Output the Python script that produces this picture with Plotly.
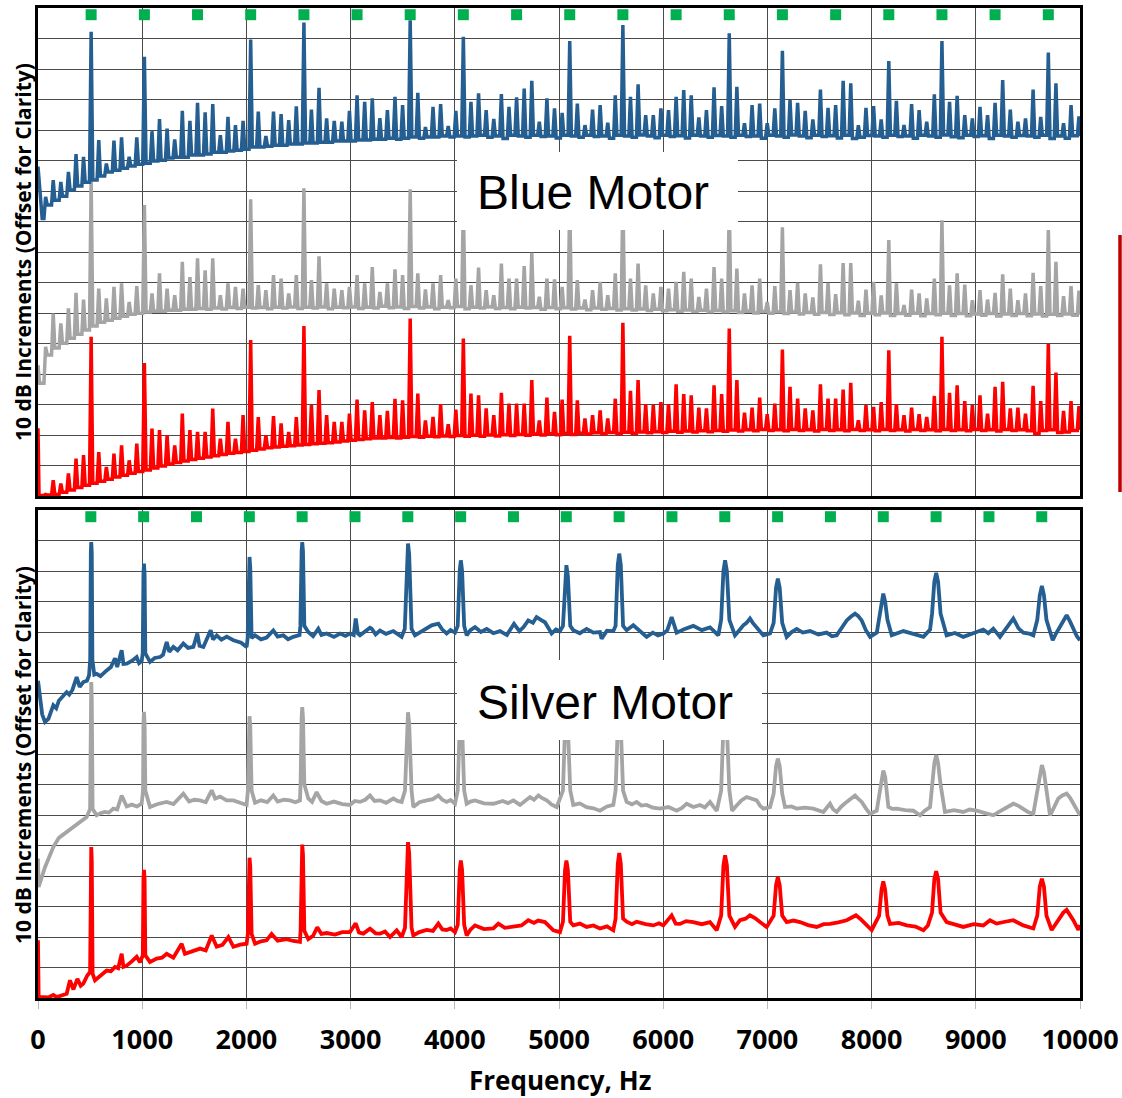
import plotly.graph_objects as go

# ---------------- DATA ----------------
tick_hz = [0, 1000, 2000, 3000, 4000, 5000, 6000, 7000, 8000, 9000, 10000]
tick_text = ["0", "1000", "2000", "3000", "4000", "5000", "6000", "7000", "8000", "9000", "10000"]

# green markers (harmonic positions) for each panel
blue_motor_marks_hz = [510, 1021, 1531, 2041, 2552, 3062, 3572, 4082, 4593, 5103, 5613,
                       6124, 6634, 7144, 7655, 8165, 8675, 9185, 9696]
silver_motor_marks_hz = [507, 1014, 1521, 2028, 2535, 3042, 3549, 4056, 4563, 5070, 5577,
                         6084, 6591, 7098, 7605, 8112, 8619, 9126, 9633]
mark_db = 157.8

# Blue motor: comb lines (Hz)
comb_hz = [73, 146, 219, 292, 365, 437, 510, 583, 656, 729,
           802, 875, 948, 1021, 1094, 1166, 1239, 1312, 1385, 1458,
           1531, 1604, 1677, 1750, 1823, 1895, 1968, 2041, 2114, 2187,
           2260, 2333, 2406, 2479, 2552, 2624, 2697, 2770, 2843, 2916,
           2989, 3062, 3135, 3208, 3281, 3353, 3426, 3499, 3572, 3645,
           3718, 3791, 3864, 3937, 4010, 4082, 4155, 4228, 4301, 4374,
           4447, 4520, 4593, 4666, 4739, 4811, 4884, 4957, 5030, 5103,
           5176, 5249, 5322, 5395, 5468, 5540, 5613, 5686, 5759, 5832,
           5905, 5978, 6051, 6124, 6197, 6269, 6342, 6415, 6488, 6561,
           6634, 6707, 6780, 6853, 6926, 6998, 7071, 7144, 7217, 7290,
           7363, 7436, 7509, 7582, 7655, 7727, 7800, 7873, 7946, 8019,
           8092, 8165, 8238, 8311, 8384, 8456, 8529, 8602, 8675, 8748,
           8821, 8894, 8967, 9040, 9113, 9185, 9258, 9331, 9404, 9477,
           9550, 9623, 9696, 9769, 9842, 9914, 9990]

# Blue motor, blue curve
bm_blue_head_hz = [0, 40]
bm_blue_head_db = [108.0, 91.0]
bm_blue_peak = [98.1, 103.6, 103.0, 106.3, 112.1, 111.2, 152.2, 116.7, 109.0, 116.5,
                117.6, 111.2, 117.6, 144.0, 119.6, 123.6, 120.5, 116.9, 126.3, 123.0,
                128.9, 125.8, 128.5, 118.3, 124.3, 121.6, 123.0, 149.7, 126.0, 118.0,
                126.0, 125.2, 123.2, 127.8, 155.2, 126.7, 133.8, 123.8, 123.0, 122.7,
                126.3, 131.4, 129.2, 130.4, 123.9, 126.5, 130.9, 128.2, 156.0, 132.2,
                121.0, 127.6, 128.5, 121.3, 126.3, 150.6, 129.2, 132.0, 126.5, 123.6,
                131.8, 127.6, 130.7, 133.6, 136.1, 122.7, 130.4, 127.1, 125.6, 149.2,
                128.7, 121.6, 126.7, 128.2, 122.4, 131.4, 154.4, 130.9, 135.0, 124.9,
                124.9, 127.1, 126.5, 130.9, 133.1, 131.4, 124.1, 126.5, 134.0, 127.8,
                151.7, 134.2, 122.2, 128.2, 128.7, 122.2, 127.1, 146.0, 129.8, 128.9,
                126.3, 123.5, 133.3, 127.3, 128.2, 136.1, 135.3, 121.6, 127.3, 127.8,
                123.5, 142.6, 129.6, 121.6, 128.5, 126.5, 122.7, 131.7, 149.2, 129.2,
                131.2, 124.9, 123.8, 127.6, 124.9, 128.9, 136.4, 126.7, 122.7, 123.8,
                133.3, 124.3, 145.4, 135.3, 122.2, 128.2, 124.5]
bm_blue_floor = [95.4, 97.0, 98.3, 100.3, 101.6, 102.9, 103.6, 104.9, 106.2, 106.8,
                 107.5, 108.2, 108.8, 109.1, 109.8, 110.1, 110.8, 111.1, 111.1, 111.8,
                 111.8, 112.1, 112.7, 112.7, 113.1, 113.4, 113.7, 114.4, 114.4, 114.7,
                 115.0, 115.0, 115.4, 115.4, 115.7, 115.7, 116.0, 116.0, 116.4, 116.4,
                 116.4, 116.7, 116.7, 117.0, 117.0, 117.3, 117.0, 117.3, 117.7, 117.3,
                 117.7, 117.7, 118.0, 117.7, 118.0, 117.7, 118.0, 118.3, 117.6, 118.0,
                 117.2, 118.3, 118.0, 117.6, 118.3, 117.9, 118.0, 117.4, 118.3, 118.0,
                 117.6, 118.3, 117.9, 118.0, 117.3, 118.3, 118.0, 117.6, 118.4, 118.0,
                 117.5, 118.3, 117.9, 118.1, 117.4, 118.3, 118.0, 117.6, 118.2, 118.0,
                 117.6, 118.3, 117.9, 118.0, 117.3, 118.3, 118.0, 117.6, 118.4, 118.0,
                 117.5, 118.3, 117.9, 118.1, 117.4, 118.3, 117.2, 117.6, 118.2, 118.0,
                 117.6, 118.3, 117.9, 118.0, 117.3, 118.3, 118.0, 117.6, 118.4, 117.8,
                 117.5, 118.3, 117.9, 118.1, 117.2, 118.3, 118.0, 117.6, 118.2, 118.0,
                 117.6, 118.3, 117.2, 118.0, 117.3, 118.1, 118.0]

# Blue motor, gray curve
bm_gray_head_hz = [0, 15]
bm_gray_head_db = [42.9, 37.0]
bm_gray_peak = [48.9, 59.8, 56.6, 61.5, 66.6, 64.4, 103.6, 68.0, 64.8, 68.6,
                69.7, 63.6, 68.8, 95.4, 66.4, 73.0, 68.0, 65.8, 76.8, 71.8,
                77.9, 74.0, 77.9, 65.8, 69.7, 68.6, 68.0, 97.3, 69.1, 67.5,
                72.4, 71.3, 66.4, 72.4, 100.9, 70.8, 78.6, 69.7, 68.0, 67.5,
                68.6, 72.4, 69.7, 75.1, 66.9, 69.7, 74.3, 72.4, 100.6, 73.0,
                67.7, 69.7, 72.4, 64.2, 71.3, 96.0, 69.1, 74.9, 67.5, 65.8,
                76.2, 71.3, 71.3, 75.4, 79.7, 65.3, 71.3, 71.0, 68.6, 97.0,
                70.8, 64.4, 67.5, 70.2, 65.8, 73.0, 99.0, 71.3, 76.2, 69.1,
                66.4, 68.6, 68.0, 70.2, 73.5, 71.3, 65.3, 68.0, 75.1, 71.3,
                96.0, 74.6, 66.4, 69.1, 71.3, 63.6, 68.8, 88.1, 67.5, 69.9,
                66.4, 65.1, 76.0, 69.9, 66.2, 76.4, 76.4, 64.0, 67.7, 70.2,
                65.8, 83.9, 69.7, 62.6, 67.7, 66.4, 64.8, 71.3, 90.4, 69.1,
                73.0, 69.3, 64.2, 67.5, 64.4, 66.6, 72.7, 68.0, 64.2, 66.4,
                73.2, 68.8, 87.2, 76.8, 65.5, 68.8, 67.3]
bm_gray_floor = [46.2, 48.5, 50.1, 51.7, 53.0, 54.4, 55.7, 57.0, 57.6, 58.3,
                 58.9, 59.6, 59.9, 60.3, 60.6, 60.6, 60.9, 60.9, 61.2, 61.2,
                 61.5, 61.2, 61.6, 61.3, 61.8, 61.5, 61.9, 61.6, 61.8, 61.4,
                 61.9, 61.6, 62.0, 61.5, 61.9, 61.6, 62.0, 61.4, 61.9, 61.7,
                 62.0, 61.5, 61.9, 61.6, 62.2, 61.7, 62.0, 61.5, 62.1, 61.6,
                 62.0, 61.4, 61.9, 61.7, 62.1, 61.4, 61.9, 61.6, 62.0, 61.5,
                 61.8, 61.4, 61.9, 61.6, 61.8, 61.2, 61.8, 61.4, 61.7, 61.3,
                 61.6, 61.1, 61.6, 61.2, 61.5, 61.0, 61.4, 61.0, 61.3, 60.8,
                 61.2, 60.7, 61.1, 60.6, 61.0, 60.5, 60.9, 60.4, 60.8, 60.4,
                 60.7, 60.2, 60.6, 60.0, 60.5, 59.9, 60.4, 59.8, 60.3, 59.7,
                 60.2, 59.6, 60.2, 59.5, 60.1, 59.4, 60.0, 59.2, 59.9, 59.4,
                 60.0, 59.2, 59.8, 59.3, 59.9, 59.1, 59.8, 59.4, 59.9, 59.2,
                 59.8, 59.1, 59.7, 59.3, 59.8, 59.0, 59.7, 59.2, 59.8, 59.1,
                 59.7, 59.0, 59.6, 59.2, 59.7, 59.3, 59.5]

# Blue motor, red curve
bm_red_head_hz = [0, 10]
bm_red_head_db = [22.2, 0.2]
bm_red_peak = [0.5, 5.2, 4.1, 7.4, 12.3, 13.4, 52.2, 14.4, 9.5, 13.9,
               16.6, 11.7, 17.2, 43.6, 22.1, 21.6, 19.9, 16.6, 27.0, 21.6,
               21.0, 21.0, 28.7, 18.8, 24.3, 18.8, 26.5, 51.1, 25.9, 19.9,
               26.2, 23.8, 21.0, 25.9, 55.7, 29.8, 34.7, 26.5, 24.3, 24.3,
               27.0, 31.6, 28.1, 30.8, 26.5, 27.9, 31.9, 31.4, 58.2, 33.6,
               24.8, 25.9, 30.1, 23.5, 28.3, 51.6, 33.6, 33.0, 28.7, 26.5,
               33.8, 30.3, 30.3, 30.3, 38.0, 24.8, 32.3, 27.6, 31.6, 52.5,
               31.4, 25.4, 26.5, 28.1, 25.4, 31.9, 56.8, 34.5, 38.0, 30.1,
               29.8, 30.8, 30.1, 36.6, 33.4, 33.0, 29.0, 28.7, 36.3, 33.4,
               54.9, 38.0, 27.3, 29.0, 32.3, 26.8, 30.3, 48.0, 35.8, 31.9,
               28.7, 28.1, 36.6, 31.9, 31.9, 34.9, 37.1, 24.8, 29.8, 29.2,
               30.8, 47.8, 30.1, 26.5, 29.0, 26.8, 25.9, 32.8, 52.2, 33.8,
               36.3, 31.1, 29.8, 33.0, 27.0, 35.8, 37.4, 28.7, 29.0, 27.0,
               36.1, 31.1, 49.8, 40.5, 27.9, 31.1, 29.5]
bm_red_floor = [0.3, 0.5, 1.2, 2.0, 2.8, 3.5, 4.2, 4.8, 5.5, 6.2,
                6.8, 7.5, 8.0, 8.5, 9.2, 9.8, 10.5, 11.0, 11.5, 12.0,
                12.4, 12.8, 13.2, 13.6, 14.0, 14.3, 14.6, 15.0, 15.4, 15.8,
                16.1, 16.3, 16.5, 16.7, 16.9, 17.1, 17.3, 17.5, 17.7, 18.0,
                18.3, 18.5, 18.8, 19.0, 19.0, 19.2, 19.0, 19.3, 19.5, 19.3,
                19.6, 19.4, 19.7, 19.5, 19.8, 19.6, 19.9, 19.6, 20.0, 19.7,
                20.1, 19.8, 20.2, 19.9, 20.3, 20.0, 20.4, 20.1, 20.5, 20.2,
                20.6, 20.3, 20.7, 20.4, 20.8, 20.5, 20.9, 20.6, 21.0, 20.7,
                21.1, 20.8, 21.2, 20.9, 21.3, 21.0, 21.4, 21.1, 21.5, 21.2,
                21.6, 21.3, 21.7, 21.4, 21.8, 21.5, 21.7, 21.4, 21.8, 21.5,
                21.7, 21.3, 21.8, 21.5, 21.7, 21.4, 21.8, 21.5, 21.7, 21.4,
                21.8, 21.5, 21.7, 21.3, 21.8, 21.5, 21.7, 21.4, 21.8, 21.5,
                21.7, 21.4, 21.8, 21.5, 21.7, 21.3, 21.8, 21.5, 21.7, 21.4,
                20.5, 21.5, 21.7, 20.8, 21.0, 21.5, 21.7]

# Silver motor curves: (Hz, dB) points
sm_blue_pts = [
    (0, 104.0), (40, 93.0), (67, 90.5), (100, 91.5), (147, 96.0), (175, 95.0), (200, 97.5),
    (240, 99.0), (275, 100.3), (300, 99.5), (330, 101.0), (371, 105.2), (400, 102.0),
    (435, 103.6), (470, 104.0), (490, 105.8), (501, 111.0), (507, 146.0), (511, 149.5),
    (516, 146.0), (522, 111.0), (540, 106.0), (563, 106.3), (600, 105.5), (659, 107.4),
    (700, 108.5), (739, 111.4), (760, 108.5), (803, 114.0), (820, 109.5), (851, 109.6),
    (900, 110.5), (947, 111.8), (970, 109.8), (995, 110.5), (1005, 113.0), (1012, 139.0),
    (1017, 142.4), (1023, 139.0), (1030, 113.0), (1075, 110.2), (1120, 111.5), (1171, 111.8),
    (1200, 112.5), (1235, 116.7), (1260, 113.5), (1299, 115.1), (1340, 114.0), (1395, 116.2),
    (1440, 114.8), (1491, 115.1), (1529, 119.5), (1550, 115.5), (1587, 115.1), (1657, 120.6),
    (1680, 117.5), (1715, 118.9), (1760, 117.5), (1811, 118.5), (1875, 117.3), (1950, 116.5),
    (2002, 115.1), (2012, 118.0), (2024, 141.0), (2030, 144.6), (2037, 141.0), (2050, 118.0),
    (2083, 118.9), (2140, 117.6), (2194, 118.2), (2258, 120.5), (2300, 118.5), (2354, 118.9),
    (2400, 117.6), (2450, 118.4), (2510, 119.0), (2518, 122.0), (2530, 146.5), (2536, 149.5),
    (2543, 146.5), (2556, 122.0), (2594, 120.0), (2640, 118.6), (2690, 121.1), (2720, 119.0),
    (2770, 119.5), (2840, 118.4), (2900, 119.5), (2950, 118.7), (2994, 119.5), (3030, 119.0),
    (3049, 124.4), (3070, 119.5), (3090, 118.9), (3140, 120.3), (3186, 121.4), (3202, 121.1),
    (3240, 119.2), (3282, 120.5), (3340, 119.4), (3410, 120.3), (3450, 119.5), (3490, 118.4),
    (3520, 121.0), (3540, 145.5), (3551, 149.0), (3562, 145.5), (3585, 121.0), (3618, 118.9),
    (3680, 120.2), (3730, 121.1), (3778, 122.2), (3842, 122.7), (3880, 120.8), (3922, 119.5),
    (3960, 120.6), (4002, 119.8), (4028, 122.0), (4047, 140.0), (4058, 143.5), (4070, 140.0),
    (4090, 122.0), (4114, 118.9), (4150, 120.6), (4194, 121.6), (4250, 120.0), (4306, 121.0),
    (4370, 119.6), (4434, 120.3), (4500, 119.0), (4568, 122.7), (4620, 120.3), (4660, 121.6),
    (4705, 123.8), (4750, 123.0), (4785, 124.9), (4830, 123.9), (4865, 123.2), (4900, 121.2),
    (4929, 119.5), (4970, 120.8), (5009, 120.3), (5038, 122.0), (5058, 138.5), (5071, 141.9),
    (5085, 138.5), (5108, 122.0), (5137, 120.6), (5200, 119.6), (5265, 121.0), (5330, 119.8),
    (5393, 120.0), (5409, 117.8), (5460, 120.4), (5521, 120.3), (5543, 122.0), (5564, 142.0),
    (5578, 145.7), (5593, 142.0), (5615, 122.0), (5649, 120.6), (5713, 122.2), (5780, 120.0),
    (5841, 118.4), (5900, 119.8), (5950, 118.9), (6001, 119.5), (6040, 120.6), (6081, 124.9),
    (6129, 119.8), (6200, 120.9), (6289, 122.0), (6370, 120.6), (6449, 121.5), (6490, 120.2),
    (6529, 118.9), (6556, 124.0), (6578, 140.0), (6594, 143.5), (6611, 140.0), (6635, 124.0),
    (6689, 118.9), (6705, 119.5), (6769, 122.2), (6800, 123.0), (6833, 124.4), (6860, 123.0),
    (6897, 121.5), (6930, 120.0), (6961, 118.9), (7025, 119.5), (7060, 123.0), (7083, 134.5),
    (7100, 137.5), (7118, 134.5), (7142, 123.0), (7185, 118.4), (7230, 119.9), (7281, 121.0),
    (7340, 119.8), (7409, 120.3), (7490, 119.2), (7569, 119.8), (7620, 118.6), (7665, 118.9),
    (7710, 121.0), (7761, 123.8), (7800, 125.0), (7841, 126.0), (7870, 125.3), (7905, 123.8),
    (7945, 120.6), (7985, 118.4), (8050, 119.8), (8072, 124.0), (8095, 130.0), (8112, 132.6),
    (8130, 130.0), (8152, 124.0), (8193, 118.9), (8250, 119.6), (8305, 120.3), (8400, 119.4),
    (8497, 118.4), (8561, 120.8), (8580, 126.0), (8602, 136.5), (8620, 139.4), (8638, 136.5),
    (8662, 126.0), (8720, 118.9), (8800, 119.7), (8880, 118.4), (8980, 119.6), (9072, 120.8),
    (9120, 119.6), (9168, 121.1), (9232, 118.4), (9300, 121.5), (9360, 124.4), (9410, 121.2),
    (9456, 119.8), (9510, 119.5), (9552, 118.9), (9590, 124.0), (9614, 132.0), (9634, 135.1),
    (9654, 132.0), (9678, 124.0), (9738, 117.3), (9770, 119.5), (9808, 121.8), (9840, 124.0),
    (9872, 125.5), (9905, 123.4), (9936, 121.0), (9970, 118.6), (10000, 117.3)]

sm_gray_pts = [
    (0, 45.7), (6, 36.4), (67, 42.9), (147, 49.5), (200, 52.5), (275, 54.4), (371, 57.2),
    (435, 58.5), (467, 59.3), (500, 62.0), (506, 98.0), (511, 103.6), (516, 98.0), (524, 62.0),
    (563, 59.9), (600, 60.6), (640, 61.0), (680, 60.8), (723, 62.1), (760, 61.8), (803, 66.4),
    (851, 62.8), (900, 63.4), (950, 62.8), (995, 63.7), (1008, 68.0), (1012, 90.0),
    (1017, 93.8), (1023, 90.0), (1030, 68.0), (1075, 62.6), (1150, 63.6), (1235, 64.3),
    (1300, 63.6), (1395, 67.0), (1450, 64.4), (1500, 65.0), (1555, 64.8), (1610, 64.2),
    (1667, 68.1), (1700, 65.4), (1747, 66.0), (1810, 64.8), (1875, 64.8), (1940, 64.0),
    (2002, 63.3), (2014, 68.0), (2024, 89.0), (2030, 92.4), (2037, 89.0), (2050, 68.0),
    (2083, 64.0), (2140, 64.8), (2200, 64.2), (2258, 66.4), (2300, 64.4), (2360, 65.0),
    (2418, 64.8), (2470, 64.2), (2514, 64.8), (2520, 70.0), (2530, 92.0), (2536, 95.4),
    (2543, 92.0), (2556, 70.0), (2594, 65.4), (2630, 64.3), (2674, 67.5), (2720, 64.6),
    (2770, 63.7), (2840, 64.4), (2920, 63.6), (2994, 63.3), (3040, 64.6), (3090, 64.3),
    (3140, 65.0), (3186, 66.4), (3230, 64.6), (3282, 64.8), (3340, 64.0), (3410, 65.4),
    (3450, 64.6), (3490, 64.3), (3522, 68.0), (3540, 90.0), (3551, 93.7), (3562, 90.0),
    (3585, 68.0), (3602, 62.6), (3660, 64.2), (3730, 64.8), (3790, 65.2), (3842, 66.4),
    (3880, 65.0), (3922, 64.3), (3960, 64.9), (4002, 63.7), (4028, 68.0), (4047, 89.0),
    (4058, 92.0), (4070, 89.0), (4090, 68.0), (4114, 63.7), (4150, 64.4), (4194, 64.8),
    (4280, 63.8), (4370, 63.7), (4460, 64.6), (4510, 63.9), (4562, 64.8), (4626, 63.3),
    (4680, 64.9), (4722, 65.9), (4760, 65.0), (4802, 66.4), (4840, 65.5), (4882, 64.8),
    (4930, 63.4), (4978, 62.6), (5038, 68.0), (5058, 89.0), (5071, 92.0), (5085, 89.0),
    (5108, 68.0), (5137, 63.3), (5200, 63.8), (5265, 62.6), (5330, 62.2), (5393, 61.4),
    (5460, 62.8), (5521, 63.3), (5543, 68.0), (5564, 89.0), (5578, 92.0), (5593, 89.0),
    (5615, 68.0), (5649, 64.3), (5700, 63.5), (5745, 64.3), (5790, 63.1), (5841, 63.3),
    (5900, 62.4), (5969, 62.1), (6050, 62.6), (6129, 61.4), (6180, 62.3), (6225, 63.7),
    (6290, 62.6), (6353, 63.3), (6400, 62.5), (6449, 64.3), (6480, 62.8), (6514, 61.4),
    (6556, 68.0), (6578, 89.0), (6594, 92.0), (6611, 89.0), (6635, 68.0), (6661, 61.4),
    (6705, 63.1), (6750, 64.8), (6801, 65.9), (6850, 65.5), (6897, 64.8), (6930, 63.0),
    (6961, 62.1), (7025, 62.6), (7060, 67.0), (7083, 76.0), (7100, 78.5), (7118, 76.0),
    (7142, 67.0), (7169, 62.6), (7230, 62.8), (7281, 62.1), (7360, 62.4), (7441, 62.1),
    (7490, 61.7), (7537, 61.0), (7601, 63.7), (7630, 61.9), (7665, 61.0), (7710, 62.8),
    (7761, 64.3), (7800, 65.5), (7841, 66.4), (7875, 65.2), (7905, 64.3), (7945, 62.2),
    (7985, 60.4), (8049, 61.4), (8072, 67.0), (8095, 72.5), (8112, 74.6), (8130, 72.5),
    (8152, 67.0), (8161, 62.6), (8200, 62.0), (8241, 62.1), (8320, 61.6), (8401, 61.4),
    (8465, 59.9), (8510, 61.4), (8561, 62.6), (8580, 70.0), (8602, 77.0), (8620, 79.6),
    (8638, 77.0), (8662, 70.0), (8704, 61.0), (8790, 61.6), (8880, 61.0), (8940, 61.8),
    (9008, 61.4), (9090, 60.6), (9168, 59.9), (9230, 61.2), (9296, 62.6), (9360, 63.7),
    (9410, 63.0), (9456, 62.1), (9500, 61.0), (9552, 60.4), (9590, 68.0), (9614, 74.0),
    (9634, 76.4), (9654, 74.0), (9678, 68.0), (9712, 59.9), (9750, 62.4), (9792, 65.4),
    (9830, 66.4), (9872, 67.0), (9905, 65.6), (9936, 63.7), (9970, 61.4), (10000, 59.9)]

sm_red_pts = [
    (0, 18.9), (6, 0.4), (100, 0.2), (147, 1.0), (180, 0.3), (275, 1.4), (307, 5.8),
    (340, 2.8), (378, 6.3), (410, 4.0), (435, 4.7), (473, 7.4), (500, 8.5), (506, 45.0),
    (511, 49.5), (516, 45.0), (524, 8.0), (547, 5.8), (600, 7.2), (659, 9.0), (700, 8.8),
    (739, 10.2), (770, 9.8), (803, 14.5), (820, 10.2), (851, 10.6), (900, 12.0), (947, 13.5),
    (979, 11.7), (1006, 14.0), (1012, 39.0), (1017, 42.0), (1023, 39.0), (1030, 14.0),
    (1075, 11.8), (1139, 12.9), (1190, 13.2), (1235, 14.5), (1299, 13.2), (1379, 17.8),
    (1410, 14.5), (1480, 15.4), (1555, 16.2), (1610, 15.6), (1667, 20.5), (1715, 16.8),
    (1770, 17.4), (1827, 20.0), (1875, 16.8), (1940, 17.5), (2002, 17.8), (2014, 21.0),
    (2024, 43.0), (2030, 46.0), (2037, 43.0), (2050, 21.0), (2083, 17.8), (2140, 18.6),
    (2194, 18.9), (2242, 21.0), (2300, 18.8), (2386, 19.3), (2450, 18.7), (2514, 18.4),
    (2520, 22.0), (2530, 47.0), (2536, 50.3), (2543, 47.0), (2556, 22.0), (2594, 19.3),
    (2640, 20.4), (2680, 23.2), (2720, 21.0), (2770, 21.3), (2850, 20.8), (2920, 21.6),
    (2994, 21.6), (3049, 24.5), (3080, 21.5), (3122, 21.1), (3186, 22.7), (3240, 21.2),
    (3282, 21.1), (3330, 21.8), (3378, 20.0), (3442, 22.2), (3490, 20.0), (3522, 23.0),
    (3540, 47.5), (3551, 51.1), (3562, 47.5), (3585, 23.0), (3602, 20.5), (3660, 21.6),
    (3730, 22.3), (3790, 22.0), (3842, 24.4), (3880, 22.5), (3922, 22.3), (3960, 22.8),
    (4002, 21.6), (4028, 24.0), (4047, 42.0), (4058, 45.1), (4070, 42.0), (4090, 24.0),
    (4114, 20.5), (4150, 22.4), (4194, 23.8), (4280, 22.6), (4370, 22.8), (4418, 24.4),
    (4480, 23.0), (4562, 23.3), (4640, 23.8), (4705, 25.5), (4760, 24.6), (4800, 25.4),
    (4865, 24.9), (4946, 22.2), (5009, 21.6), (5038, 25.0), (5058, 42.0), (5071, 45.1),
    (5085, 42.0), (5108, 25.0), (5137, 23.8), (5200, 24.4), (5265, 23.3), (5330, 23.8),
    (5393, 22.8), (5460, 23.5), (5521, 22.2), (5543, 26.0), (5564, 44.0), (5578, 47.5),
    (5593, 44.0), (5615, 26.0), (5649, 25.0), (5700, 24.2), (5745, 25.0), (5830, 24.2),
    (5905, 23.8), (5960, 24.5), (6001, 23.8), (6081, 27.1), (6120, 24.4), (6161, 24.3),
    (6220, 25.2), (6289, 24.9), (6370, 24.2), (6449, 24.9), (6514, 22.2), (6556, 27.0),
    (6578, 43.5), (6594, 46.8), (6611, 43.5), (6635, 27.0), (6689, 23.3), (6737, 25.5),
    (6790, 26.0), (6833, 27.1), (6880, 26.2), (6929, 24.9), (6993, 23.3), (7060, 27.0),
    (7083, 37.0), (7100, 39.6), (7118, 37.0), (7142, 27.0), (7185, 24.9), (7250, 25.4),
    (7313, 24.9), (7390, 23.9), (7473, 23.3), (7540, 24.2), (7601, 24.3), (7680, 24.8),
    (7761, 25.5), (7810, 26.4), (7850, 27.1), (7890, 26.0), (7921, 24.9), (8001, 22.3),
    (8072, 27.0), (8095, 35.5), (8112, 38.2), (8130, 35.5), (8152, 27.0), (8177, 24.3),
    (8260, 24.6), (8337, 23.8), (8420, 23.4), (8497, 22.2), (8540, 23.8), (8580, 28.0),
    (8602, 39.0), (8620, 41.6), (8638, 39.0), (8662, 28.0), (8720, 24.9), (8800, 24.0),
    (8880, 23.3), (8980, 24.2), (9072, 23.8), (9136, 25.5), (9200, 24.4), (9280, 25.0),
    (9360, 25.5), (9410, 24.6), (9456, 23.8), (9552, 22.8), (9590, 27.0), (9614, 36.5),
    (9634, 39.1), (9654, 36.5), (9678, 27.0), (9728, 22.3), (9770, 24.6), (9808, 26.5),
    (9840, 28.0), (9872, 28.9), (9905, 27.4), (9936, 25.5), (9984, 22.3), (10000, 23.9)]

# ---------------- STYLE ----------------
C_BLUE = "#255E91"
C_GRAY = "#A5A5A5"
C_RED = "#FF0000"
C_GREEN = "#00B050"
GRID = "#4a4a4a"
W, H = 1122, 1098
PX_L, PX_R = 38, 1080


def comb_line(head_hz, head_db, peaks, floors, half=16):
    xs, ys = list(head_hz), list(head_db)
    prev = ys[-1]
    for f, p, fl in zip(comb_hz, peaks, floors):
        xs += [f - half, f, f + half]
        ys += [prev, p, fl]
        prev = fl
    return xs, ys


fig = go.Figure()

# top panel (Blue Motor)
for head_hz, head_db, pk, fl, col in [
    (bm_red_head_hz, bm_red_head_db, bm_red_peak, bm_red_floor, C_RED),
    (bm_gray_head_hz, bm_gray_head_db, bm_gray_peak, bm_gray_floor, C_GRAY),
    (bm_blue_head_hz, bm_blue_head_db, bm_blue_peak, bm_blue_floor, C_BLUE),
]:
    xs, ys = comb_line(head_hz, head_db, pk, fl)
    fig.add_trace(go.Scatter(x=xs, y=ys, mode="lines", xaxis="x2", yaxis="y2",
                             line=dict(color=col, width=3.5), hoverinfo="skip"))

# bottom panel (Silver Motor)
for pts, col in [(sm_red_pts, C_RED), (sm_gray_pts, C_GRAY), (sm_blue_pts, C_BLUE)]:
    fig.add_trace(go.Scatter(x=[p[0] for p in pts], y=[p[1] for p in pts], mode="lines",
                             xaxis="x", yaxis="y", line=dict(color=col, width=3.8),
                             hoverinfo="skip"))

# green markers
fig.add_trace(go.Scatter(x=blue_motor_marks_hz, y=[mark_db] * len(blue_motor_marks_hz),
                         mode="markers", xaxis="x2", yaxis="y2", cliponaxis=False,
                         marker=dict(symbol="square", size=11, color=C_GREEN, line=dict(width=0))))
fig.add_trace(go.Scatter(x=silver_motor_marks_hz, y=[mark_db] * len(silver_motor_marks_hz),
                         mode="markers", xaxis="x", yaxis="y", cliponaxis=False,
                         marker=dict(symbol="square", size=11, color=C_GREEN, line=dict(width=0))))

xdom = [PX_L / W, PX_R / W]
top_dom = [1 - 496 / H, 1 - 8 / H]
bot_dom = [1 - 998 / H, 1 - 510 / H]

axis_common = dict(showgrid=True, gridcolor=GRID, gridwidth=1, zeroline=False,
                   showline=True, linecolor="black", linewidth=2.5, mirror=True,
                   automargin=False)

fig.update_layout(
    width=W, height=H, margin=dict(l=0, r=0, t=0, b=0, autoexpand=False),
    paper_bgcolor="white", plot_bgcolor="white", showlegend=False,
    xaxis=dict(domain=xdom, range=[0, 10000], anchor="y", tickmode="array",
               tickvals=tick_hz, ticktext=["<b>%s</b>" % t for t in tick_text],
               ticks="outside", ticklen=8, tickcolor="#BBBBBB", tickwidth=1,
               ticklabelstandoff=8,
               tickfont=dict(family="Open Sans", size=27, color="black"), **axis_common),
    yaxis=dict(domain=bot_dom, range=[0, 160], anchor="x", tickmode="linear", tick0=0, dtick=10,
               showticklabels=False, ticks="", **axis_common),
    xaxis2=dict(domain=xdom, range=[0, 10000], anchor="y2", tickmode="array",
                tickvals=tick_hz, showticklabels=False, ticks="", **axis_common),
    yaxis2=dict(domain=top_dom, range=[0, 160], anchor="x2", tickmode="linear", tick0=0, dtick=10,
                showticklabels=False, ticks="", **axis_common),
)

# white label boxes (above traces)
fig.add_shape(type="rect", xref="paper", yref="paper", layer="above",
              x0=457 / W, x1=738 / W, y0=1 - 230 / H, y1=1 - 152 / H,
              fillcolor="white", line=dict(width=0))
fig.add_shape(type="rect", xref="paper", yref="paper", layer="above",
              x0=457 / W, x1=762 / W, y0=1 - 740 / H, y1=1 - 660 / H,
              fillcolor="white", line=dict(width=0))
# red bar at right edge
fig.add_shape(type="line", xref="paper", yref="paper",
              x0=1120 / W, x1=1120 / W, y0=1 - 492 / H, y1=1 - 235 / H,
              line=dict(color="#C00000", width=3.5))

fig.add_annotation(x=593 / W, y=1 - 193 / H, xref="paper", yref="paper", text="Blue Motor",
                   xanchor="center", yanchor="middle", showarrow=False,
                   font=dict(family="Liberation Sans", size=48, color="black"))
fig.add_annotation(x=605 / W, y=1 - 702 / H, xref="paper", yref="paper", text="Silver Motor",
                   xanchor="center", yanchor="middle", showarrow=False,
                   font=dict(family="Liberation Sans", size=48, color="black"))

ytitle = "<b>10 dB Increments (Offset for Clarity)</b>"
for yc in [252, 755]:
    fig.add_annotation(x=23 / W, y=1 - yc / H, xref="paper", yref="paper", text=ytitle,
                       textangle=-90, xanchor="center", yanchor="middle", showarrow=False,
                       font=dict(family="Open Sans", size=21, color="black"))
fig.add_annotation(x=560 / W, y=1 - 1080 / H, xref="paper", yref="paper",
                   text="<b>Frequency, Hz</b>", xanchor="center", yanchor="middle",
                   showarrow=False, font=dict(family="Open Sans", size=26, color="black"))

fig.write_html("out.html")
